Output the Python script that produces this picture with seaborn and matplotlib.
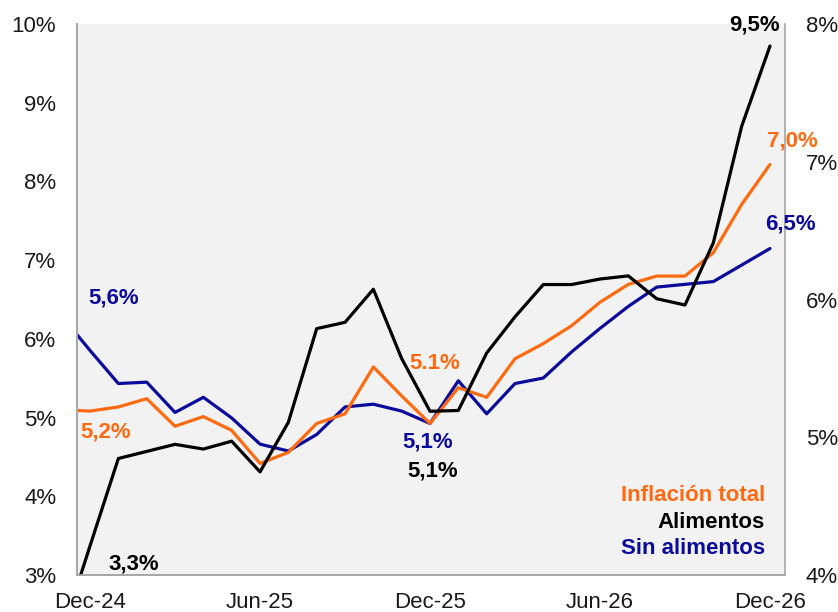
import numpy as np
import pandas as pd
import matplotlib
matplotlib.use("Agg")
import matplotlib.pyplot as plt
import seaborn as sns

# ---- data (month index: Dec-24 = 0; first point Nov-24 = -1) ----
months = ["Nov-24", "Dec-24", "Jan-25", "Feb-25", "Mar-25", "Apr-25", "May-25", "Jun-25",
          "Jul-25", "Aug-25", "Sep-25", "Oct-25", "Nov-25", "Dec-25", "Jan-26", "Feb-26",
          "Mar-26", "Apr-26", "May-26", "Jun-26", "Jul-26", "Aug-26", "Sep-26", "Oct-26",
          "Nov-26", "Dec-26"]
inflacion_total = [5.20, 5.19, 5.22, 5.28, 5.08, 5.15, 5.05, 4.81, 4.89, 5.10, 5.17, 5.51, 5.30,
                   5.10, 5.36, 5.29, 5.57, 5.68, 5.81, 5.98, 6.11, 6.17, 6.17, 6.34, 6.69, 6.98]
alimentos = [2.25, 3.37, 4.48, 4.57, 4.66, 4.60, 4.70, 4.31, 4.94, 6.13, 6.21, 6.63, 5.75,
             5.08, 5.09, 5.82, 6.28, 6.69, 6.69, 6.76, 6.80, 6.51, 6.43, 7.22, 8.70, 9.72]
sin_alimentos = [5.88, 5.63, 5.39, 5.40, 5.18, 5.29, 5.14, 4.95, 4.90, 5.02, 5.22, 5.24, 5.19,
                 5.10, 5.41, 5.17, 5.39, 5.43, 5.62, 5.79, 5.95, 6.09, 6.11, 6.13, 6.25, 6.37]

xtick_labels = ["Dec-24", "Jun-25", "Dec-25", "Jun-26", "Dec-26"]
left_ticks = [3, 4, 5, 6, 7, 8, 9, 10]
right_ticks = [4, 5, 6, 7, 8]

series_names = ["Inflación total", "Alimentos", "Sin alimentos"]

# data labels: (series, month, text)
data_labels = [
    ("Sin alimentos", "Dec-24", "5,6%"),
    ("Inflación total", "Dec-24", "5,2%"),
    ("Alimentos", "Dec-24", "3,3%"),
    ("Inflación total", "Dec-25", "5.1%"),
    ("Sin alimentos", "Dec-25", "5,1%"),
    ("Alimentos", "Dec-25", "5,1%"),
    ("Alimentos", "Dec-26", "9,5%"),
    ("Inflación total", "Dec-26", "7,0%"),
    ("Sin alimentos", "Dec-26", "6,5%"),
]

# ---- styling ----
ORANGE = "#FF6A10"
NAVY = "#0A0A9C"
BLACK = "#000000"
colors = {"Inflación total": ORANGE, "Alimentos": BLACK, "Sin alimentos": NAVY}

sns.set_theme(style="white")
plt.rcParams["font.family"] = ["Liberation Sans", "DejaVu Sans"]

idx = np.arange(len(months)) - 1
df = pd.DataFrame({"idx": idx, "month": months,
                   "Inflación total": inflacion_total,
                   "Alimentos": alimentos,
                   "Sin alimentos": sin_alimentos})

fig = plt.figure(figsize=(8.38, 6.12), dpi=100)
ax = fig.add_axes([77 / 838, 1 - 575 / 612, 708 / 838, 551 / 612])
ax2 = ax.twinx()
ax.set_zorder(ax2.get_zorder() + 1)
ax.patch.set_visible(False)
ax2.patch.set_visible(True)
ax2.patch.set_facecolor("#F2F2F2")

lw = 2.3
sns.lineplot(data=df, x="idx", y="Sin alimentos", ax=ax2, color=NAVY, lw=lw, legend=False)
sns.lineplot(data=df, x="idx", y="Inflación total", ax=ax2, color=ORANGE, lw=lw, legend=False)
sns.lineplot(data=df, x="idx", y="Alimentos", ax=ax, color=BLACK, lw=lw, legend=False)

ax.set_xlim(-0.46, 24.53)
ax.set_ylim(3, 10)
ax2.set_ylim(4, 8)

ax.set_xticks([0, 6, 12, 18, 24])
ax.set_xticklabels(xtick_labels)
ax.set_yticks(left_ticks)
ax.set_yticklabels([f"{t}%" for t in left_ticks])
ax2.set_yticks(right_ticks)
ax2.set_yticklabels([f"{t}%" for t in right_ticks])
ax.set_xlabel("")
ax.set_ylabel("")
ax2.set_ylabel("")

tick_color = "#1a1a1a"
ax.tick_params(axis="y", length=0, pad=15, labelsize=16, colors=tick_color)
ax.tick_params(axis="x", length=0, pad=12, labelsize=16, colors=tick_color)
ax2.tick_params(axis="y", length=0, pad=15, labelsize=16, colors=tick_color)

spine_color = "#A6A6A6"
for a in (ax, ax2):
    a.spines["top"].set_visible(False)
    for s in ("left", "right", "bottom"):
        a.spines[s].set_color(spine_color)
        a.spines[s].set_linewidth(1.2)
ax.spines["right"].set_visible(False)

# data labels
offsets = {
    ("Sin alimentos", "Dec-24"): (-1.5, 38, "left"),
    ("Inflación total", "Dec-24"): (-7, -15, "left"),
    ("Alimentos", "Dec-24"): (13, -13, "left"),
    ("Inflación total", "Dec-25"): (3.5, 43, "center"),
    ("Sin alimentos", "Dec-25"): (-1.5, -13, "center"),
    ("Alimentos", "Dec-25"): (2, -43, "center"),
    ("Alimentos", "Dec-26"): (-11, 15, "center"),
    ("Inflación total", "Dec-26"): (16, 17, "center"),
    ("Sin alimentos", "Dec-26"): (15, 18, "center"),
}
for name, m, txt in data_labels:
    row = df[df["month"] == m].iloc[0]
    target = ax if name == "Alimentos" else ax2
    dx, dy, ha = offsets[(name, m)]
    target.annotate(txt, (row["idx"], row[name]), xytext=(dx, dy), textcoords="offset points",
                    ha=ha, va="center", fontsize=16, fontweight="bold", color=colors[name],
                    annotation_clip=False, zorder=10)

# legend as coloured text
for name, yfrac in zip(series_names, [0.1434, 0.0944, 0.049]):
    ax.text(0.9718, yfrac, name, transform=ax.transAxes, ha="right", va="center",
            fontsize=16, fontweight="bold", color=colors[name])

fig.savefig("out.png", dpi=100, facecolor="white")
